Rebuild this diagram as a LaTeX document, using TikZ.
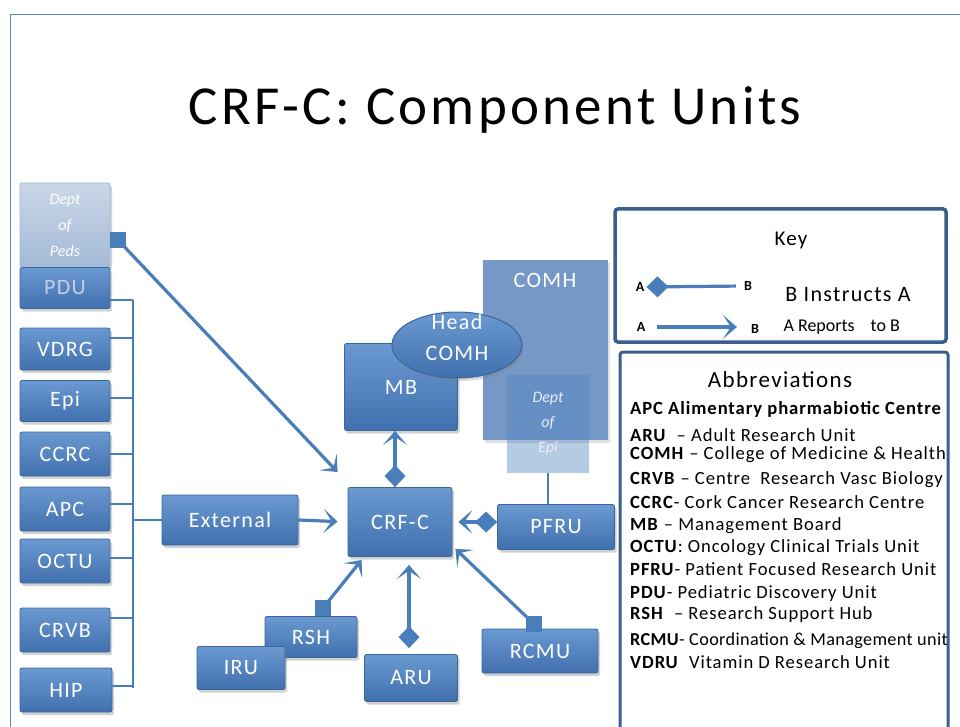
\documentclass[tikz,border=0pt]{standalone}
\usepackage{fontspec}
\setmainfont{Carlito}
\newfontfamily\spaced[LetterSpace=6]{Carlito}
\newfontfamily\spacedS[LetterSpace=5]{Carlito}
\newfontfamily\spacedT[LetterSpace=2]{Carlito}
\usetikzlibrary{arrows.meta,shadows,shapes.geometric,calc}
\definecolor{boxtop}{HTML}{6B99D1}
\definecolor{boxbot}{HTML}{4070AE}
\definecolor{boxline}{HTML}{3A6699}
\definecolor{arr}{HTML}{4A7EBB}
\definecolor{framec}{HTML}{5A86C2}
\definecolor{keyline}{HTML}{3B5E8C}
\definecolor{pdutext}{HTML}{C5CFDE}
\definecolor{pedtop}{HTML}{CBD7E8}
\definecolor{pedbot}{HTML}{A3B9D6}
\definecolor{comhc}{HTML}{7598C6}
\definecolor{epic}{HTML}{4F81BD}
\tikzset{
  ubox/.style={draw=boxline, line width=0.8pt, top color=boxtop, bottom color=boxbot,
    text=white, font=\spaced\fontsize{22}{24}\selectfont, rounded corners=2pt,
    inner sep=0pt, drop shadow={shadow xshift=2pt, shadow yshift=-3pt, opacity=0.35}},
  rep/.style={line width=3.2pt, draw=arr, -{Stealth[length=14pt,width=24pt,inset=8pt]}},
  insrep/.style={line width=3.2pt, draw=arr, {Diamond[length=22pt,width=21pt]}-{Stealth[length=14pt,width=24pt,inset=8pt]}},
  busline/.style={line width=2.2pt, draw=arr},
  sqtip/.style={fill=arr},
  abbr/.style={anchor=west, inner sep=0pt, font=\spacedS\fontsize{18.6}{20}\selectfont, text=black},
  keytext/.style={inner sep=0pt, font=\fontsize{14}{16}\selectfont\bfseries, text=black}
}
\begin{document}
\begin{tikzpicture}[x=1pt,y=-1pt]
\useasboundingbox (0,0) rectangle (960,727);
\fill[white] (0,0) rectangle (960,727);
% outer frame
\draw[framec, line width=1pt] (10,745) -- (10,15) -- (975,15);
% title
\node[font=\spaced\fontsize{55}{60}\selectfont, text=black] (title) at (495,110) {CRF-C: Component Units};

% left column
\node[ubox, top color=pedtop, bottom color=pedbot, draw=pedbot, minimum width=90pt, minimum height=84pt,
  align=center, font=\fontsize{16}{26}\selectfont\itshape] (peds) at (65,225) {Dept\\of\\Peds};
\node[ubox, minimum width=90pt, minimum height=41pt, text=pdutext] (pdu) at (65,288) {PDU};
\node[ubox, minimum width=90pt, minimum height=42pt] (vdrg) at (65,349) {VDRG};
\node[ubox, minimum width=90pt, minimum height=41pt] (epi) at (65,401) {Epi};
\node[ubox, minimum width=90pt, minimum height=44pt] (ccrc) at (65,454) {CCRC};
\node[ubox, minimum width=90pt, minimum height=44pt] (apc) at (65,509) {APC};
\node[ubox, minimum width=90pt, minimum height=44pt] (octu) at (65,561) {OCTU};
\node[ubox, minimum width=90pt, minimum height=44pt] (crvb) at (65,630) {CRVB};
\node[ubox, minimum width=92pt, minimum height=44pt] (hip) at (66,690) {HIP};

% bus
\coordinate (bustop) at (133,300);
\coordinate (busbot) at (133,688);
\draw[busline] (bustop) -- (busbot);
\draw[busline] ([yshift=-12pt]pdu.east) -- (bustop);
\draw[busline] ([yshift=11pt]vdrg.east) -- ([yshift=11pt]vdrg.east -| bustop);
\draw[busline] ([yshift=3pt]epi.east) -- ([yshift=3pt]epi.east -| bustop);
\draw[busline] (ccrc.east) -- (ccrc.east -| bustop);
\draw[busline] ([yshift=5pt]apc.east) -- ([yshift=5pt]apc.east -| bustop);
\draw[busline] ([yshift=3pt]octu.east) -- ([yshift=3pt]octu.east -| bustop);
\draw[busline] ([yshift=12pt]crvb.east) -- ([yshift=12pt]crvb.east -| bustop);
\draw[busline] ([yshift=4pt]hip.east) -- ([yshift=4pt]hip.east -| busbot);

% External
\node[ubox, minimum width=136pt, minimum height=50pt] (ext) at (230,520) {External};
\draw[busline] (ext.west -| bustop) -- (ext.west);

% COMH group
\node[fill=comhc, minimum width=125pt, minimum height=180pt, inner sep=0pt,
  drop shadow={shadow xshift=2pt, shadow yshift=-3pt, opacity=0.25},
  label={[anchor=north, yshift=-10pt, text=white, font=\spaced\fontsize{22}{24}\selectfont]north:COMH}] (comh) at (545,350) {};
\node[fill=epic, fill opacity=0.42, text opacity=1, minimum width=82pt, minimum height=98pt, inner sep=0pt,
  align=center, text=white!92!blue, font=\fontsize{16}{25}\selectfont\itshape] (depi) at (548,424) {Dept\\of\\Epi};
\node[ubox, minimum width=113pt, minimum height=87pt] (mb) at (401,387) {MB};
\node[ellipse, draw=boxline, line width=1pt, top color=boxtop, bottom color=boxbot, minimum width=130pt, minimum height=66pt,
  inner sep=0pt, drop shadow={shadow xshift=2pt, shadow yshift=-3pt, opacity=0.3},
  label={[yshift=8pt, align=center, text=white, font=\spaced\fontsize{22}{31}\selectfont]center:Head\\COMH}] (head) at (457,345) {};

% centre
\node[ubox, minimum width=104pt, minimum height=69pt] (crfc) at (400,522) {CRF-C};
\node[ubox, minimum width=117pt, minimum height=45pt] (pfru) at (556,527) {PFRU};

% bottom units
\node[ubox, minimum width=92pt, minimum height=41pt] (rsh) at (311,637) {RSH};
\node[ubox, minimum width=88pt, minimum height=43pt] (iru) at (241,668) {IRU};
\node[ubox, minimum width=93pt, minimum height=47pt] (aru) at (411,678) {ARU};
\node[ubox, minimum width=116pt, minimum height=44pt] (rcmu) at (540,651) {RCMU};

% connectors
\draw[busline] (depi.south) -- (depi.south |- pfru.north);
\draw[rep, shorten >=10pt] (ext.east) -- (crfc.west);
\coordinate (pedsq) at (118,240);
\draw[rep] (pedsq) -- ($(crfc.north west)+(-10,-15)$);
\fill[sqtip] ($(pedsq)+(-8,-8)$) rectangle ($(pedsq)+(8,8)$);
\draw[insrep] ([xshift=-5pt]crfc.north) -- ([xshift=-6pt]mb.south);
\draw[insrep, shorten >=6pt] (pfru.west |- crfc.east) -- (crfc.east);
\coordinate (rshsq) at (323,608);
\draw[rep] (rshsq) -- ($(crfc.south west)+(14,3)$);
\fill[sqtip] ($(rshsq)+(-8,-8)$) rectangle ($(rshsq)+(8,8)$);
\draw[insrep, shorten <=6pt, shorten >=8pt] ([xshift=-2pt]aru.north) -- ([xshift=9pt]crfc.south);
\coordinate (rcsq) at (534,624);
\draw[rep] (rcsq) -- ($(crfc.south east)+(3,-8)$);
\fill[sqtip] ($(rcsq)+(-8,-8)$) rectangle ($(rcsq)+(8,8)$);

% Key box
\node[draw=keyline, line width=3.5pt, rounded corners=3pt, minimum width=331pt, minimum height=133pt, inner sep=0pt] (key) at (780.5,275.5) {};
\node[font=\spaced\fontsize{21}{23}\selectfont] (keyt) at (791,240) {Key};
\node[keytext] (ka1) at (640,287) {A};
\node[keytext] (kb1) at (748,286) {B};
\draw[line width=3.2pt, draw=arr, {Diamond[length=22pt,width=21pt]}-, shorten <=2pt, shorten >=8pt] (ka1.east) -- (kb1.west);
\node[font=\spaced\fontsize{22}{24}\selectfont] (kinstr) at (848,295) {B Instructs A};
\node[keytext] (ka2) at (641,327) {A};
\node[keytext] (kb2) at (755,329) {B};
\draw[rep, shorten <=12pt, shorten >=14pt] (ka2.east) -- (kb2.west |- ka2.east);
\node[font=\fontsize{18}{20}\selectfont, anchor=west] (krep) at (780,327) {A Reports\hspace{16pt}to B};

% Abbreviations box
\node[draw=keyline, line width=3pt, rounded corners=3pt, minimum width=328pt, minimum height=395pt, inner sep=0pt] (abbrbox) at (784,549.5) {};
\node[font=\spaced\fontsize{23}{25}\selectfont] (abbrt) at (780,380) {Abbreviations};
\node[abbr] (l1) at (630,409) {\bfseries APC Alimentary pharmabiotic Centre};
\node[abbr] (l2) at (630,435) {\textbf{ARU}\ \ – Adult Research Unit};
\node[abbr] (l3) at (630,455) {\textbf{COMH} – College of Medicine \& Health};
\node[abbr] (l4) at (630,480) {\textbf{CRVB} – Centre\ \ Research Vasc Biology};
\node[abbr] (l5) at (630,502) {\textbf{CCRC}- Cork Cancer Research Centre};
\node[abbr] (l6) at (630,526) {\textbf{MB} – Management Board};
\node[abbr] (l7) at (630,548) {\textbf{OCTU}: Oncology Clinical Trials Unit};
\node[abbr] (l8) at (630,569) {\textbf{PFRU}- Patient Focused Research Unit};
\node[abbr] (l9) at (630,594) {\textbf{PDU}- Pediatric Discovery Unit};
\node[abbr] (l10) at (630,615) {\textbf{RSH}\ \ – Research Support Hub};
\node[abbr, font=\spacedT\fontsize{18.2}{20}\selectfont] (l11) at (630,641) {\textbf{RCMU}- Coordination \& Management unit};
\node[abbr] (l12) at (630,662) {\textbf{VDRU}\ \ Vitamin D Research Unit};
\end{tikzpicture}
\end{document}
